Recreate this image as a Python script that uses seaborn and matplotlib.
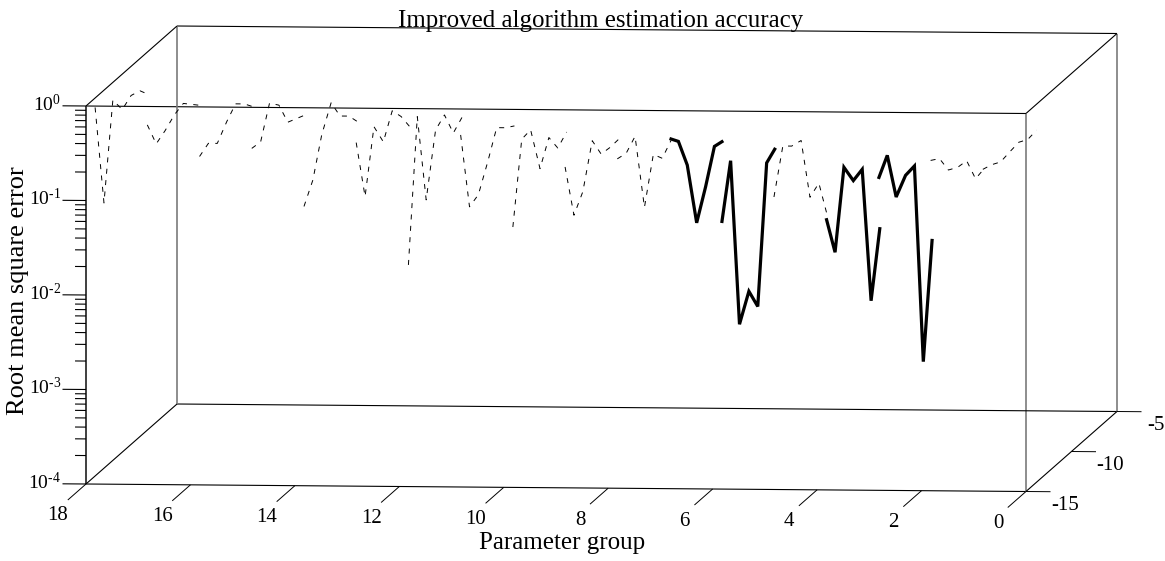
import matplotlib
matplotlib.use('Agg')
import matplotlib.pyplot as plt
import numpy as np
import pandas as pd
import seaborn as sns

# log10 of the RMSE, one list per parameter group
log_rmse_18 = [-0.10, -1.11, -0.02, -0.12, 0.03, 0.08, 0.04]
log_rmse_17 = [-0.28, -0.48, -0.34, -0.17, -0.05, -0.06, -0.07]
log_rmse_16 = [-0.61, -0.47, -0.47, -0.24, -0.05, -0.05, -0.08]
log_rmse_15 = [-0.52, -0.45, -0.04, -0.06, -0.24, -0.20, -0.16]
log_rmse_14 = [-1.13, -0.85, -0.37, -0.03, -0.17, -0.17, -0.23]
log_rmse_13 = [-0.45, -1.02, -0.28, -0.44, -0.11, -0.17, -0.28]
log_rmse_12 = [-1.74, -0.17, -1.05, -0.31, -0.15, -0.34, -0.17]
log_rmse_11 = [-0.36, -1.12, -0.99, -0.64, -0.28, -0.28, -0.26]
log_rmse_10 = [-1.33, -0.40, -0.30, -0.71, -0.38, -0.49, -0.32]
log_rmse_9 = [-0.69, -1.20, -0.95, -0.41, -0.55, -0.48, -0.39]
log_rmse_8 = [-0.60, -0.54, -0.36, -1.11, -0.55, -0.59, -0.40]
log_rmse_7 = [-0.38, -0.41, -0.66, -1.27, -0.89, -0.46, -0.40]
log_rmse_6 = [-1.27, -0.61, -2.34, -1.99, -2.15, -0.63, -0.47]
log_rmse_5 = [-0.99, -0.45, -0.45, -0.39, -0.99, -0.84, -1.20]
log_rmse_4 = [-1.21, -1.57, -0.67, -0.81, -0.69, -2.08, -1.30]
log_rmse_3 = [-0.79, -0.54, -0.98, -0.75, -0.65, -2.72, -1.42]
log_rmse_2 = [-0.59, -0.57, -0.69, -0.66, -0.59, -0.78, -0.67]
log_rmse_1 = [-0.68, -0.63, -0.60, -0.49, -0.39, -0.36, -0.26]

group_start = list(range(18, 0, -1))
group_offset = [0, 0.17, 0.34, 0.52, 0.69, 0.86, 1.03]
bold_groups = [7, 6, 4, 3]
trace_depth = -14

x_ticks = [18, 16, 14, 12, 10, 8, 6, 4, 2, 0]
y_ticks = [-4, -3, -2, -1, 0]
depth_ticks = [-15, -10, -5]

title = 'Improved algorithm estimation accuracy'
x_label = 'Parameter group'
y_label = 'Root mean square error'


# oblique projection of (group, depth, log10 rmse) to the picture
def project(g, d, z):
    g, d, z = np.asarray(g, float), np.asarray(d, float), np.asarray(z, float)
    sx = 86 + (18 - g) * 52.22 + (d + 15) * 9.1
    sy = 484 + (18 - g) * 0.417 - (d + 15) * 8.0 - (z + 4) * 94.5
    return sx, sy


traces = [log_rmse_18, log_rmse_17, log_rmse_16, log_rmse_15, log_rmse_14, log_rmse_13,
          log_rmse_12, log_rmse_11, log_rmse_10, log_rmse_9, log_rmse_8, log_rmse_7,
          log_rmse_6, log_rmse_5, log_rmse_4, log_rmse_3, log_rmse_2, log_rmse_1]

rows = []
for start, values in zip(group_start, traces):
    for off, v in zip(group_offset, values):
        rows.append({'trace': start, 'group': start - off, 'log_rmse': v})
df = pd.DataFrame(rows)
df['sx'], df['sy'] = project(df['group'], trace_depth, df['log_rmse'])

sns.set_theme(style='white')
plt.rcParams['font.family'] = ['Liberation Serif', 'DejaVu Serif']
plt.rcParams['mathtext.fontset'] = 'custom'
plt.rcParams['mathtext.rm'] = 'Liberation Serif'
plt.rcParams['mathtext.it'] = 'Liberation Serif'
plt.rcParams['lines.scale_dashes'] = False
plt.rcParams['text.color'] = 'black'

fig = plt.figure(figsize=(11.65, 5.61), dpi=100)
ax = fig.add_axes([0, 0, 1, 1])
ax.set_xlim(0, 1165)
ax.set_ylim(561, 0)
ax.axis('off')


def seg(a, b, color='black', lw=0.8):
    sx, sy = project([a[0], b[0]], [a[1], b[1]], [a[2], b[2]])
    ax.plot(sx, sy, color=color, lw=lw, solid_capstyle='butt')


# box edges
grey = '#7a7a7a'
for d in [-15, -5]:
    seg((18, d, 0), (0, d, 0))
    seg((18, d, -4), (0, d, -4))
    seg((0, d, -4), (0, d, 0), color=grey, lw=1.2)
seg((18, -5, -4), (18, -5, 0), color=grey, lw=1.2)
seg((18, -15, -4), (18, -15, 0), color='#303030', lw=1.3)
for g in [18, 0]:
    seg((g, -15, 0), (g, -5, 0))
    seg((g, -15, -4), (g, -5, -4))

# ticks and tick labels
for g in x_ticks:
    seg((g, -15, -4), (g, -17, -4), lw=0.7)
    sx, sy = project(g, -15, -4)
    ax.text(sx - 28, sy + 32, str(g), fontsize=15, ha='center', va='center')
for d in depth_ticks:
    seg((0, d, -4), (-0.47, d, -4), lw=0.7)
    sx, sy = project(0, d, -4)
    ax.text(sx + 39, sy + 14, str(d), fontsize=15, ha='center', va='center')
for z in y_ticks:
    seg((18, -15, z), (18.45, -15, z), lw=0.8)
    sx, sy = project(18, -15, z)
    ax.text(sx - 25, sy - 2, r'$\mathregular{10^{\text{%d}}}$' % z, fontsize=14, ha='right', va='center')
    if z < 0:
        for m in range(2, 10):
            seg((18, -15, z + np.log10(m)), (18.21, -15, z + np.log10(m)), lw=0.8)

# one line per parameter group
for start, part in df.groupby('trace', sort=False):
    if start in bold_groups:
        sns.lineplot(data=part, x='sx', y='sy', color='black', lw=2.3, estimator=None, sort=False,
                     ax=ax, solid_capstyle='butt', solid_joinstyle='miter')
    else:
        sns.lineplot(data=part, x='sx', y='sy', color='black', lw=0.7, estimator=None, sort=False,
                     ax=ax, linestyle=(0, (3.6, 4.6)))

ax.set_xlabel('')
ax.set_ylabel('')
ax.text(601, 21, title, fontsize=17.9, ha='center', va='center')
ax.text(562, 543, x_label, fontsize=18, ha='center', va='center')
ax.text(18, 291, y_label, fontsize=19, rotation=90, ha='center', va='center')

fig.savefig('out.png', dpi=100)
